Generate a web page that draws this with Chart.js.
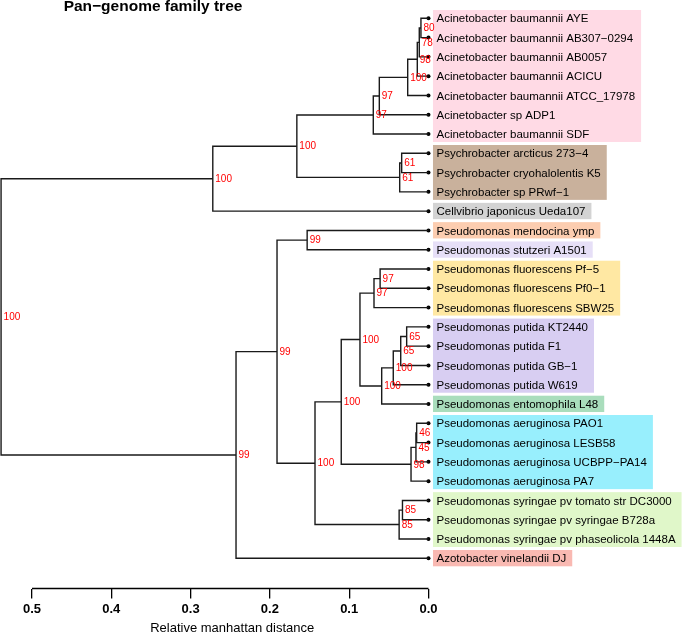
<!DOCTYPE html>
<html>
<head>
<meta charset="utf-8">
<script src="https://cdn.jsdelivr.net/npm/chart.js@4"></script>
<style>
html,body{margin:0;padding:0;background:#fff;}
#wrap{width:685px;height:634px;}
</style>
</head>
<body>
<div id="wrap"><canvas id="c" width="685" height="634"></canvas></div>
<script>
// ---------- data ----------
const leafNames = [
  "Acinetobacter baumannii AYE",
  "Acinetobacter baumannii AB307\u22120294",
  "Acinetobacter baumannii AB0057",
  "Acinetobacter baumannii ACICU",
  "Acinetobacter baumannii ATCC_17978",
  "Acinetobacter sp ADP1",
  "Acinetobacter baumannii SDF",
  "Psychrobacter arcticus 273\u22124",
  "Psychrobacter cryohalolentis K5",
  "Psychrobacter sp PRwf\u22121",
  "Cellvibrio japonicus Ueda107",
  "Pseudomonas mendocina ymp",
  "Pseudomonas stutzeri A1501",
  "Pseudomonas fluorescens Pf\u22125",
  "Pseudomonas fluorescens Pf0\u22121",
  "Pseudomonas fluorescens SBW25",
  "Pseudomonas putida KT2440",
  "Pseudomonas putida F1",
  "Pseudomonas putida GB\u22121",
  "Pseudomonas putida W619",
  "Pseudomonas entomophila L48",
  "Pseudomonas aeruginosa PAO1",
  "Pseudomonas aeruginosa LESB58",
  "Pseudomonas aeruginosa UCBPP\u2212PA14",
  "Pseudomonas aeruginosa PA7",
  "Pseudomonas syringae pv tomato str DC3000",
  "Pseudomonas syringae pv syringae B728a",
  "Pseudomonas syringae pv phaseolicola 1448A",
  "Azotobacter vinelandii DJ"
];

// hclust-style merges: negative = leaf (1-based), positive = earlier merge (1-based)
const mergeLeft   = [-1, 1, 2, 3, 4, 5, -8, 7, 6, 9, -12, -14, 12, -17, 14, 15, 16, 13, -22, 19, 20, 18, -26, 23, 22, 11, 26, 10];
const mergeRight  = [-2, -3, -4, -5, -6, -7, -9, -10, 8, -11, -13, -15, -16, -18, -19, -20, -21, 17, -23, -24, -25, 21, -27, -28, 24, 25, -29, 27];
const mergeHeight = [0.0095, 0.0116, 0.0141, 0.0262, 0.062, 0.0696, 0.0338, 0.0363, 0.166, 0.272,
                     0.153, 0.061, 0.0687, 0.0275, 0.035, 0.0444, 0.059, 0.0864, 0.0149, 0.0158,
                     0.022, 0.110, 0.0328, 0.037, 0.1431, 0.191, 0.2427, 0.539];
const mergeSupport = [80, 78, 98, 100, 97, 97, 61, 61, 100, 100,
                      99, 97, 97, 65, 65, 100, 100, 100, 46, 45,
                      98, 100, 85, 85, 100, 99, 99, 100];

const groupFirstLeaf = [0, 7, 10, 11, 12, 13, 16, 20, 21, 25, 28];
const groupLastLeaf  = [6, 9, 10, 11, 12, 15, 19, 20, 24, 27, 28];
const groupColors = ["#FFDAE5", "#C9B19C", "#D3D3D3", "#FCCDB0", "#E6DFF7", "#FFE8A3",
                     "#D8CEF2", "#A9DDBC", "#98EFFD", "#E0F7C9", "#F9B9B2"];

const xTicks = [0, 0.1, 0.2, 0.3, 0.4, 0.5];
const chartTitle = "Pan\u2212genome family tree";
const xTitle = "Relative manhattan distance";

// ---------- dendrogram layout ----------
const nodeX = [], nodeY = [];
function childPos(c) {
  if (c < 0) return {x: 0, y: -c - 1};
  return {x: nodeX[c - 1], y: nodeY[c - 1]};
}
const datasets = [];
for (let i = 0; i < mergeLeft.length; i++) {
  const a = childPos(mergeLeft[i]);
  const b = childPos(mergeRight[i]);
  const h = mergeHeight[i];
  nodeX.push(h);
  nodeY.push((a.y + b.y) / 2);
  datasets.push({
    type: 'scatter',
    showLine: true,
    data: [{x: a.x, y: a.y}, {x: h, y: a.y}, {x: h, y: b.y}, {x: b.x, y: b.y}],
    borderColor: '#1a1a1a',
    borderWidth: 1.4,
    pointRadius: 0,
    tension: 0,
    clip: false,
    borderJoinStyle: 'miter',
    borderCapStyle: 'butt'
  });
}
datasets.push({
  type: 'scatter',
  data: leafNames.map((n, i) => ({x: 0, y: i})),
  pointRadius: 2,
  pointBackgroundColor: '#000',
  pointBorderWidth: 0,
  clip: false
});

const FONT = '"Liberation Sans", Arial, Helvetica, sans-serif';
const LEAF_FONT = '11.5px ' + FONT;

const treePlugin = {
  id: 'tree',
  beforeDatasetsDraw(chart) {
    const ctx = chart.ctx, xs = chart.scales.x, ys = chart.scales.y;
    ctx.save();
    ctx.font = LEAF_FONT;
    const x0 = xs.getPixelForValue(0);
    for (let g = 0; g < groupFirstLeaf.length; g++) {
      let w = 0;
      for (let i = groupFirstLeaf[g]; i <= groupLastLeaf[g]; i++) {
        w = Math.max(w, ctx.measureText(leafNames[i]).width);
      }
      const top = ys.getPixelForValue(groupFirstLeaf[g]) - 8.3;
      const bot = ys.getPixelForValue(groupLastLeaf[g]) + 8;
      const left = x0 + 4.5;
      const right = x0 + 8 + w + 6;
      ctx.fillStyle = groupColors[g];
      ctx.fillRect(left, top, right - left, bot - top);
    }
    ctx.restore();
  },
  afterDatasetsDraw(chart) {
    const ctx = chart.ctx, xs = chart.scales.x, ys = chart.scales.y;
    const x0 = xs.getPixelForValue(0);
    ctx.save();
    // leaf labels
    ctx.font = LEAF_FONT;
    ctx.fillStyle = '#000';
    ctx.textAlign = 'left';
    ctx.textBaseline = 'middle';
    leafNames.forEach((n, i) => {
      ctx.fillText(n, x0 + 8, ys.getPixelForValue(i) + 1);
    });
    // support values
    ctx.font = '10px ' + FONT;
    ctx.fillStyle = '#FF0000';
    for (let i = 0; i < nodeX.length; i++) {
      ctx.fillText(String(mergeSupport[i]), xs.getPixelForValue(nodeX[i]) + 2.5, ys.getPixelForValue(nodeY[i]) + 0.5);
    }
    // axis line
    const yb = chart.chartArea.bottom;
    ctx.strokeStyle = '#000';
    ctx.lineWidth = 1.3;
    ctx.beginPath();
    ctx.moveTo(xs.getPixelForValue(xTicks[xTicks.length - 1]), yb);
    ctx.lineTo(xs.getPixelForValue(xTicks[0]), yb);
    ctx.stroke();
    // axis title
    ctx.font = '13px ' + FONT;
    ctx.fillStyle = '#000';
    ctx.textAlign = 'center';
    const xm = (xs.getPixelForValue(xTicks[0]) + xs.getPixelForValue(xTicks[xTicks.length - 1])) / 2;
    ctx.fillText(xTitle, xm + 2, 628.5);
    // chart title
    ctx.font = 'bold 15.5px ' + FONT;
    ctx.fillText(chartTitle, 153, 7);
    ctx.restore();
  }
};

new Chart(document.getElementById('c'), {
  type: 'scatter',
  data: {datasets},
  options: {
    responsive: false,
    animation: false,
    devicePixelRatio: 1,
    layout: {autoPadding: false, padding: {left: 0, right: 0, top: 0, bottom: 13.9}},
    plugins: {legend: {display: false}, tooltip: {enabled: false}, title: {display: false}},
    scales: {
      x: {
        type: 'linear',
        reverse: true,
        min: -0.3235,
        max: 0.54035,
        afterBuildTicks: (s) => { s.ticks = xTicks.map(v => ({value: v})); },
        ticks: {
          autoSkip: false, maxRotation: 0, padding: 3,
          color: '#000',
          font: {family: FONT, size: 13, weight: 'bold'},
          callback: (v) => Number(v).toFixed(1)
        },
        grid: {display: true, drawOnChartArea: false, drawTicks: true, tickLength: 10, color: '#000', lineWidth: 1.3},
        border: {display: false}
      },
      y: {
        type: 'linear',
        display: false,
        reverse: true,
        min: -0.9489,
        max: 29.566
      }
    }
  },
  plugins: [treePlugin]
});
</script>
</body>
</html>
